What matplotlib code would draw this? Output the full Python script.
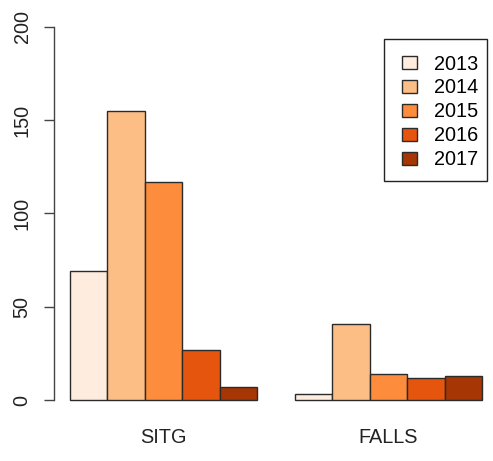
import matplotlib
matplotlib.use("Agg")
import matplotlib.pyplot as plt
from matplotlib.patches import Patch, Rectangle
import numpy as np

plt.rcParams["font.family"] = ["Liberation Sans", "DejaVu Sans"]

categories = ["SITG", "FALLS"]
years = ["2013", "2014", "2015", "2016", "2017"]
values = {
    "SITG": [69, 155, 117, 27, 7],
    "FALLS": [3, 41, 14, 12, 13],
}
colors = ["#FEEDDE", "#FDBE85", "#FD8D3C", "#E6550D", "#A63603"]
y_ticks = [0, 50, 100, 150, 200]

W, H = 493, 461
fig = plt.figure(figsize=(W / 100, H / 100), dpi=100)
# plot region in pixels: x 53.5..498.5, y 12..415 (from top)
ax = fig.add_axes([53.5 / W, (H - 415) / H, 445 / W, 403 / H])

n = len(years)
edge = "#2b2b2b"
for g, cat in enumerate(categories):
    left0 = g * (n + 1) + 1
    for i, v in enumerate(values[cat]):
        ax.bar(left0 + i, v, width=1.0, align="edge", color=colors[i],
               edgecolor=edge, linewidth=1.0)

total_right = len(categories) * (n + 1)
span = total_right - 1
ax.set_xlim(1 - 0.04 * span, total_right + 0.04 * span)
ax.set_ylim(-0.04 * 200, 200 * 1.04)

for s in ["top", "right", "bottom"]:
    ax.spines[s].set_visible(False)
ax.spines["left"].set_bounds(0, 200)
ax.spines["left"].set_color("#444444")
ax.spines["left"].set_linewidth(1.0)

fs = 14.3
ax.set_yticks(y_ticks)
ax.set_yticklabels([str(t) for t in y_ticks], rotation=90, va="center",
                   fontsize=fs, color="#222222")
ax.tick_params(axis="y", direction="out", length=7.2, width=1.0,
               color="#444444", pad=8.5)

centers = [g * (n + 1) + 1 + n / 2 for g in range(len(categories))]
ax.set_xticks(centers)
ax.set_xticklabels(categories, fontsize=fs, color="#222222")
ax.tick_params(axis="x", length=0, pad=9.5)

# legend entries without frame, boxed by a plain rectangle (R-style legend)
handles = [Patch(facecolor=c, edgecolor=edge, linewidth=1.0) for c in colors]
leg = fig.legend(handles, years, loc="upper left",
                 bbox_to_anchor=(401.7 / W, (H - 54.5) / H),
                 fontsize=fs, frameon=False,
                 handlelength=0.75, handleheight=0.6, handletextpad=0.87,
                 labelspacing=0.25, borderpad=0, borderaxespad=0)
fig.add_artist(Rectangle((384 / W, (H - 180.5) / H), 103 / W, 142 / H,
                         transform=fig.transFigure, fill=False,
                         edgecolor="#222222", linewidth=1.0))

fig.savefig("out.png", dpi=100, facecolor="white")
